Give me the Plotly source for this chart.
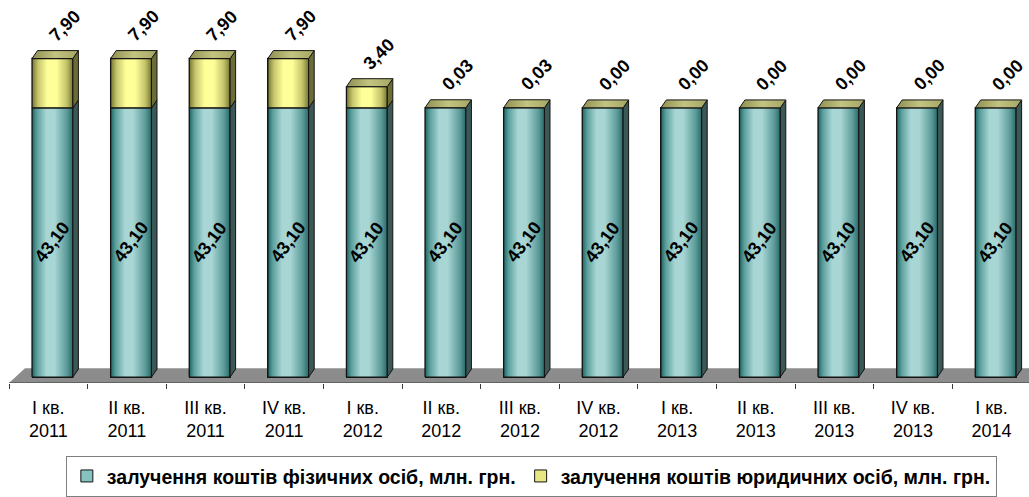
import plotly.graph_objects as go

# ---- data ----
quarters = ["I кв.", "II кв.", "III кв.", "IV кв.",
            "I кв.", "II кв.", "III кв.", "IV кв.",
            "I кв.", "II кв.", "III кв.", "IV кв.",
            "I кв."]
years = ["2011", "2011", "2011", "2011",
         "2012", "2012", "2012", "2012",
         "2013", "2013", "2013", "2013",
         "2014"]
individuals = [43.10, 43.10, 43.10, 43.10, 43.10, 43.10, 43.10,
               43.10, 43.10, 43.10, 43.10, 43.10, 43.10]
legal_entities = [7.90, 7.90, 7.90, 7.90, 3.40, 0.03, 0.03,
                  0.00, 0.00, 0.00, 0.00, 0.00, 0.00]

name_ind = "залучення коштів фізичних осіб, млн. грн."
name_leg = "залучення коштів юридичних осіб, млн. грн."

# ---- style ----
FONT = "Liberation Sans, Arial, sans-serif"
TEAL_SCALE = [[0, "#1d6462"], [0.12, "#5a9f9d"], [0.35, "#a8d6d4"],
              [0.55, "#a8d6d4"], [0.85, "#5c9b99"], [1, "#276a68"]]
YELLOW_SCALE = [[0, "#76762f"], [0.15, "#c6c66e"], [0.38, "#ffff99"],
                [0.6, "#ffff99"], [0.85, "#c2c26a"], [1, "#76762f"]]
TOP_SCALE = [[0, "#8e8e50"], [0.5, "#c4c482"], [1, "#a4a464"]]
TEAL_SIDE = "#3b5756"
YELLOW_SIDE = "#6c6c36"
EDGE = "#141414"

BAR_W = 0.52        # front face width (category units)
BAR_SHIFT = 0.053   # bars sit a little back from the floor's front edge
DX, DY = 0.07, 1.27  # 3-D depth of a bar
FLOOR_FRONT = -0.95
FLOOR_DX, FLOOR_DY = 0.2036, 2.38

n = len(quarters)
x_idx = list(range(n))


def fmt(v):
    return f"{v:.2f}".replace(".", ",")


def poly(xs, ys, **kw):
    return go.Scatter(x=xs + [xs[0]], y=ys + [ys[0]], mode="lines", fill="toself",
                      hoverinfo="skip", showlegend=False, **kw)


fig = go.Figure()

# plain stacked bars (front faces, also give the legend entries)
fig.add_trace(go.Bar(
    x=x_idx, y=individuals, width=BAR_W, offset=-BAR_W / 2 + BAR_SHIFT,
    name=name_ind, marker=dict(color="#86c2c0", line=dict(color=EDGE, width=1)),
))
fig.add_trace(go.Bar(
    x=x_idx, y=legal_entities, width=BAR_W, offset=-BAR_W / 2 + BAR_SHIFT,
    name=name_leg, marker=dict(color="#e6e685", line=dict(color=EDGE, width=1)),
))

# 3-D look: shaded fronts, side faces, top faces
annotations = []
for i in x_idx:
    h = individuals[i]
    v = legal_entities[i]
    t = h + v
    xl = i - BAR_W / 2 + BAR_SHIFT
    xr = xl + BAR_W

    fig.add_trace(poly([xl, xr, xr, xl], [0, 0, h, h],
                       fillgradient=dict(type="horizontal", colorscale=TEAL_SCALE),
                       line=dict(color=EDGE, width=1.3)))
    fig.add_trace(poly([xr, xr + DX, xr + DX, xr], [0, DY, h + DY, h],
                       fillcolor=TEAL_SIDE, line=dict(color=EDGE, width=1)))
    if v > 0.5:
        fig.add_trace(poly([xl, xr, xr, xl], [h, h, t, t],
                           fillgradient=dict(type="horizontal", colorscale=YELLOW_SCALE),
                           line=dict(color=EDGE, width=1.3)))
        fig.add_trace(poly([xr, xr + DX, xr + DX, xr], [h, h + DY, t + DY, t],
                           fillcolor=YELLOW_SIDE, line=dict(color=EDGE, width=1)))
    fig.add_trace(poly([xl, xr, xr + DX, xl + DX], [t, t, t + DY, t + DY],
                       fillgradient=dict(type="horizontal", colorscale=TOP_SCALE),
                       line=dict(color=EDGE, width=1)))

    annotations.append(dict(
        x=i + BAR_SHIFT, y=h / 2, xref="x", yref="y", text=f"<b>{fmt(h)}</b>",
        showarrow=False, textangle=-53, font=dict(family=FONT, size=18, color="black"),
    ))
    annotations.append(dict(
        x=i + BAR_SHIFT, y=t, xref="x", yref="y", text=f"<b>{fmt(v)}</b>",
        showarrow=False, textangle=-45, xshift=12, yshift=33,
        font=dict(family=FONT, size=18, color="black"),
    ))

# floor and front edge of the floor
shapes = [
    dict(type="path", xref="x", yref="y", layer="below",
         path=(f"M {-0.5},{FLOOR_FRONT} L {n - 0.5},{FLOOR_FRONT} "
               f"L {n - 0.5 + FLOOR_DX},{FLOOR_FRONT + FLOOR_DY} "
               f"L {-0.5 + FLOOR_DX},{FLOOR_FRONT + FLOOR_DY} Z"),
         fillcolor="#8c8c8c", line=dict(width=0)),
    dict(type="line", xref="x", yref="y", x0=-0.5, x1=n - 0.5,
         y0=FLOOR_FRONT, y1=FLOOR_FRONT, line=dict(color="#3a3a3a", width=1.2)),
]

fig.update_layout(
    width=1029, height=497,
    margin=dict(l=0, r=0, t=0, b=110),
    barmode="stack",
    paper_bgcolor="white", plot_bgcolor="white",
    font=dict(family=FONT, color="black"),
    showlegend=True,
    legend=dict(orientation="h", x=0.064, xanchor="left", y=-0.19, yanchor="top",
                bordercolor="#7f7f7f", borderwidth=1, traceorder="normal",
                font=dict(family=FONT, size=19.5, color="black", weight="bold"),
                itemwidth=30),
    shapes=shapes,
    annotations=annotations,
)
fig.update_xaxes(
    range=[-0.6145, 12.477],
    tickmode="array", tickvals=x_idx,
    ticktext=[f"{q}<br>{y}" for q, y in zip(quarters, years)],
    ticks="", showgrid=False, zeroline=False, showline=False,
    ticklabelstandoff=12,
    tickfont=dict(family=FONT, size=18, color="black"),
    minor=dict(tickmode="array", tickvals=[i - 0.5 for i in range(n + 1)],
               ticks="outside", ticklen=5, tickcolor="#3a3a3a", tickwidth=1,
               showgrid=False),
)
fig.update_yaxes(range=[-0.951, 60.37], visible=False)

fig.write_html("out.html", config={"displayModeBar": False},
               post_script="document.body.style.margin='0px';")
